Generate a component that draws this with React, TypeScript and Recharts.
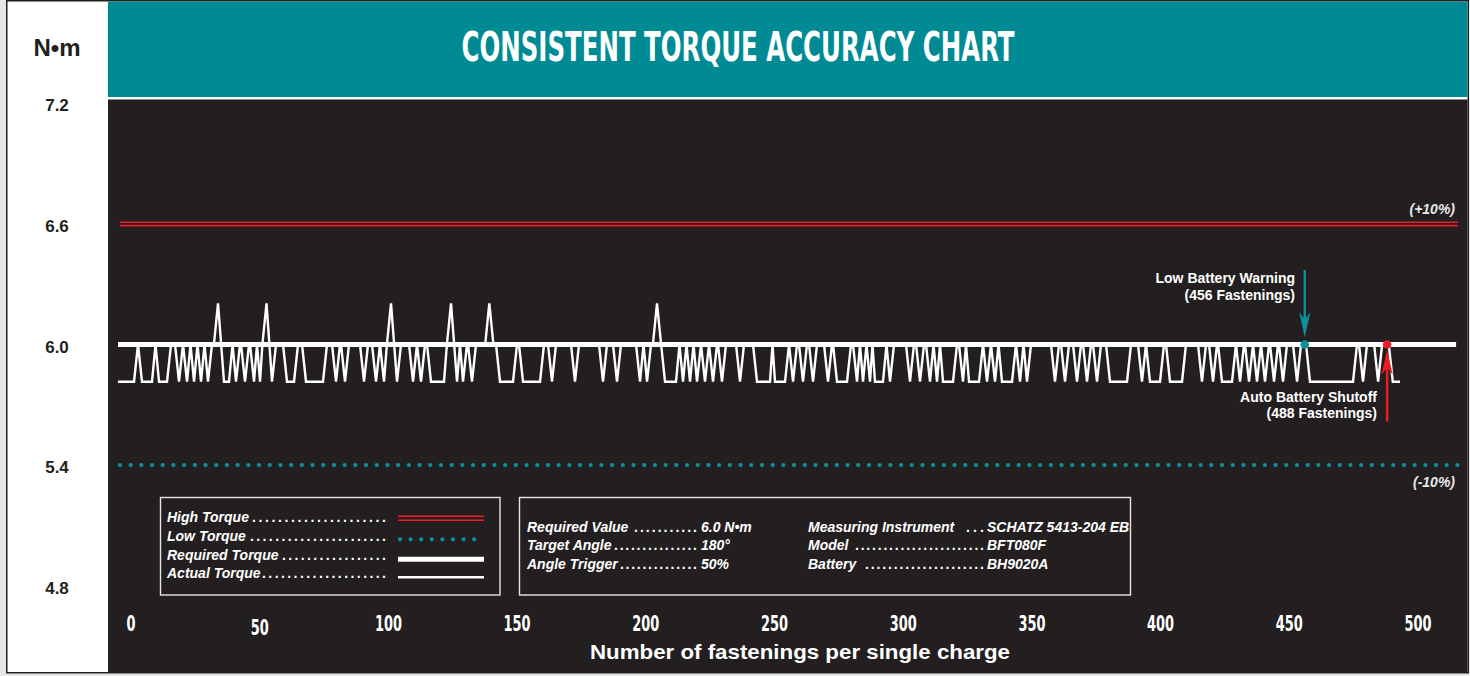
import React from 'react';
import { ComposedChart, Line, XAxis, YAxis, ReferenceLine, ReferenceDot } from 'recharts';

const W = 1470;
const H = 676;

// ---- axis ticks ----
const xTicks = [0, 50, 100, 150, 200, 250, 300, 350, 400, 450, 500];
const yTicks = [4.8, 5.4, 6.0, 6.6, 7.2];

// ---- torque levels (N·m) ----
const requiredTorque = 6.0;
const highTorque = 6.6;
const lowTorque = 5.4;
const actualLowValue = 5.815;
const actualSpikeValue = 6.205;

// ---- actual torque trace: stretches where the reading sits at the low value [from, to] (fastenings) ----
const lowRuns: [number, number][] = [
  [-5.05, 1.17], [4.27, 8.16], [10.88, 13.99], [18.65, 18.65], [21.76, 21.76], [24.48, 24.48],
  [27.2, 27.2], [29.91, 29.91], [36.13, 38.07], [40.79, 40.79], [44.29, 44.29], [47.79, 47.79],
  [50.12, 50.12], [54.78, 54.78], [60.61, 63.33], [67.99, 74.59], [79.64, 79.64], [83.14, 83.14],
  [90.52, 90.52], [95.18, 95.18], [98.29, 98.29], [103.34, 103.34], [109.56, 109.56], [112.67, 112.67],
  [116.55, 121.6], [126.65, 126.65], [128.98, 128.98], [132.48, 132.48], [143.36, 148.41],
  [152.29, 158.9], [163.56, 163.56], [172.49, 172.49], [183.37, 183.37], [188.81, 188.81],
  [197.75, 197.75], [200.47, 200.47], [207.46, 211.73], [214.45, 214.45], [217.17, 217.17],
  [219.89, 219.89], [223.0, 223.0], [226.11, 226.11], [229.6, 229.6], [236.6, 236.6],
  [243.2, 248.25], [250.19, 254.08], [257.19, 257.19], [261.07, 261.07], [264.96, 264.96],
  [270.78, 270.78], [274.28, 278.17], [282.05, 282.05], [284.38, 284.38], [287.1, 287.1],
  [289.04, 292.15], [294.87, 294.87], [302.64, 302.64], [306.53, 306.53], [310.41, 310.41],
  [313.13, 313.13], [315.46, 319.35], [323.23, 323.23], [325.56, 329.45], [332.56, 332.56],
  [335.66, 335.66], [338.38, 342.27], [345.38, 345.38], [348.1, 348.1], [358.97, 358.97],
  [362.86, 362.86], [367.52, 367.52], [371.41, 371.41], [375.29, 375.29], [380.34, 386.95],
  [392.77, 392.77], [395.88, 399.77], [403.65, 408.31], [416.08, 416.08], [420.36, 420.36],
  [423.85, 427.74], [430.85, 430.85], [434.34, 434.34], [437.45, 437.45], [440.56, 440.56],
  [444.06, 444.06], [447.55, 447.55], [453.0, 453.0], [458.04, 474.75], [478.63, 478.63],
  [484.5, 484.5], [490.2, 493.0],
];
// fastenings where the reading overshoots the required value
const spikeAt = [33.8, 52.64, 101.01, 124.32, 139.2, 204.35];

const requiredSpan = [-5.05, 514.8];
const limitSpan = [-4.3, 515.5];
const lowBatteryAt = 456;
const shutoffAt = 488;

// ---- colours & fonts ----
const DARK = '#231f20';
const TEAL = '#008b94';
const DOT_TEAL = '#0b8f99';
const RED = '#ed1c24';
const NARROW = "'Liberation Sans Narrow', 'DejaVu Sans Condensed', 'Liberation Sans', sans-serif";
const SANS = "'Liberation Sans', Arial, sans-serif";

const RAMP = 1.55;

function buildTrace() {
  const pts: { x: number; y: number }[] = [];
  const top = (x: number) => pts.push({ x, y: requiredTorque });
  lowRuns.forEach(([s, e], i) => {
    if (i > 0) {
      const pe = lowRuns[i - 1][1];
      const p = spikeAt.find((v) => v > pe && v < s);
      if (p !== undefined) {
        if (p - pe > 2.5) {
          if (pe + RAMP < p - 1.6) top(pe + RAMP);
          top(p - 1.6);
        }
        pts.push({ x: p, y: actualSpikeValue });
        if (s - p > 2.5) {
          top(p + 1.6);
          if (s - RAMP > p + 1.6) top(s - RAMP);
        }
      } else if (s - pe <= 2 * RAMP) {
        top((pe + s) / 2);
      } else {
        top(pe + RAMP);
        top(s - RAMP);
      }
    }
    pts.push({ x: s, y: actualLowValue });
    if (e > s) pts.push({ x: e, y: actualLowValue });
  });
  return pts;
}

const actualData = buildTrace();
const requiredData = requiredSpan.map((x) => ({ x, y: requiredTorque }));
const lowData = limitSpan.map((x) => ({ x, y: lowTorque }));

const XTick = (props: any) => {
  const { x, y, payload } = props;
  const label = String(payload.value);
  return (
    <text x={x} y={y + (payload.value === 50 ? 35 : 31)} textAnchor="middle" fill="#fff"
      fontFamily={NARROW} fontWeight={700} fontSize={21} textLength={label.length * 9}
      lengthAdjust="spacingAndGlyphs">
      {label}
    </text>
  );
};

const YTick = (props: any) => {
  const { y, payload } = props;
  return (
    <text x={57} y={y + 8} textAnchor="middle" fill={DARK} fontFamily={SANS} fontWeight={700} fontSize={17}>
      {Number(payload.value).toFixed(1)}
    </text>
  );
};

const arrowShape = (color: string) => (props: any) => {
  const { x1, y1, x2, y2 } = props;
  const dir = y2 > y1 ? 1 : -1;
  const tipX = x2;
  const tipY = y2;
  const back = tipY - dir * 25;
  const notch = tipY - dir * 18;
  return (
    <g>
      <line x1={x1} y1={y1} x2={tipX} y2={notch} stroke={color} strokeWidth={2.4} />
      <polygon points={`${tipX},${tipY} ${tipX - 5.6},${back} ${tipX},${notch} ${tipX + 5.6},${back}`} fill={color} />
    </g>
  );
};

const Leader = ({ x1, x2, y, size = 14, step = 6 }: { x1: number; x2: number; y: number; size?: number; step?: number }) => {
  const n = Math.max(1, Math.round((x2 - x1) / step));
  return (
    <text x={x1} y={y} textLength={x2 - x1} lengthAdjust="spacing" fill="#fff" fontFamily={SANS}
      fontWeight={700} fontSize={size}>
      {'.'.repeat(n)}
    </text>
  );
};

const legendRows = ['High Torque', 'Low Torque', 'Required Torque', 'Actual Torque'];
const infoLeft = [
  ['Required Value', '6.0 N•m'],
  ['Target Angle', '180°'],
  ['Angle Trigger', '50%'],
];
const infoRight = [
  ['Measuring Instrument', 'SCHATZ 5413-204 EB'],
  ['Model', 'BFT080F'],
  ['Battery', 'BH9020A'],
];

export default function App() {
  const legendY = [522, 541, 560, 578];
  const legendDotStart = [252, 250, 282, 262];
  const infoY = [532, 550, 568.5];
  const infoLeftDots = [634, 614, 620];
  const infoRightDots = [966, 855, 865];
  const itStyle = { fontFamily: SANS, fontWeight: 700, fontStyle: 'italic' as const, fill: '#fff' };

  return (
    <div style={{ position: 'absolute', left: 0, top: 0, width: W, height: H, overflow: 'hidden' }}>
      <svg width={W} height={H} style={{ position: 'absolute', left: 0, top: 0 }}>
        <rect x={0} y={0} width={W} height={H} fill="#e6e7e8" />
        <rect x={6.75} y={0.75} width={1461.5} height={672} fill="#ffffff" stroke={DARK} strokeWidth={1.5} />
        <rect x={108} y={1.5} width={1359.5} height={95.5} fill={TEAL} />
        <rect x={108} y={99.5} width={1359.5} height={572.5} fill={DARK} />
      </svg>

      <div style={{ position: 'absolute', left: 0, top: 0 }}>
        <ComposedChart width={W} height={H} margin={{ top: 100, right: 2, left: 8, bottom: 24 }}>
          <XAxis type="number" dataKey="x" domain={[-8.94, 519.42]} ticks={xTicks} interval={0}
            allowDataOverflow tick={<XTick />} tickLine={false} axisLine={false} tickSize={0} tickMargin={0} height={52} />
          <YAxis type="number" domain={[4.72886, 7.21642]} ticks={yTicks} interval={0} allowDataOverflow
            tick={<YTick />} tickLine={false} axisLine={false} width={100} />

          <ReferenceLine segment={[{ x: limitSpan[0], y: highTorque + 0.0085 }, { x: limitSpan[1], y: highTorque + 0.0085 }]}
            stroke={RED} strokeWidth={1.6} ifOverflow="visible" />
          <ReferenceLine segment={[{ x: limitSpan[0], y: highTorque - 0.0085 }, { x: limitSpan[1], y: highTorque - 0.0085 }]}
            stroke={RED} strokeWidth={1.6} ifOverflow="visible" />

          <Line data={lowData} dataKey="y" type="linear" stroke={DOT_TEAL} strokeWidth={4.3}
            strokeDasharray="0 10.7" strokeLinecap="round" dot={false} activeDot={false} isAnimationActive={false} />
          <Line data={actualData} dataKey="y" type="linear" stroke="#ffffff" strokeWidth={2.4}
            dot={false} activeDot={false} isAnimationActive={false} />
          <Line data={requiredData} dataKey="y" type="linear" stroke="#ffffff" strokeWidth={4.8}
            dot={false} activeDot={false} isAnimationActive={false} />

          <ReferenceLine segment={[{ x: lowBatteryAt, y: 6.371 }, { x: lowBatteryAt, y: 6.036 }]}
            ifOverflow="visible" shape={arrowShape(DOT_TEAL)} />
          <ReferenceLine segment={[{ x: shutoffAt, y: 5.617 }, { x: shutoffAt, y: 5.974 }]}
            ifOverflow="visible" shape={arrowShape(RED)} />
          <ReferenceDot x={lowBatteryAt} y={requiredTorque} r={4.3} fill={DOT_TEAL} stroke="none" ifOverflow="visible" />
          <ReferenceDot x={shutoffAt} y={requiredTorque} r={4.3} fill={RED} stroke="none" ifOverflow="visible" />
        </ComposedChart>
      </div>

      <svg width={W} height={H} style={{ position: 'absolute', left: 0, top: 0, pointerEvents: 'none' }}>
        <text x={738} y={61} textAnchor="middle" fill="#fff" fontFamily={NARROW} fontWeight={700} fontSize={41}
          textLength={553} lengthAdjust="spacingAndGlyphs">
          CONSISTENT TORQUE ACCURACY CHART
        </text>
        <text x={57} y={56} textAnchor="middle" fill={DARK} fontFamily={SANS} fontWeight={700} fontSize={24}>N•m</text>

        <text x={800} y={659} textAnchor="middle" fill="#fff" fontFamily={SANS} fontWeight={700} fontSize={21}
          textLength={420} lengthAdjust="spacingAndGlyphs">Number of fastenings per single charge</text>

        <text x={1455} y={214} textAnchor="end" fontSize={14} {...itStyle} fill="#e8e8e8">(+10%)</text>
        <text x={1455} y={487} textAnchor="end" fontSize={14} {...itStyle} fill="#e8e8e8">(-10%)</text>

        <text x={1295} y={283} textAnchor="end" fill="#fff" fontFamily={SANS} fontWeight={700} fontSize={14}>Low Battery Warning</text>
        <text x={1295} y={299.5} textAnchor="end" fill="#fff" fontFamily={SANS} fontWeight={700} fontSize={14}>(456 Fastenings)</text>
        <text x={1377} y={402} textAnchor="end" fill="#fff" fontFamily={SANS} fontWeight={700} fontSize={14}>Auto Battery Shutoff</text>
        <text x={1377} y={418} textAnchor="end" fill="#fff" fontFamily={SANS} fontWeight={700} fontSize={14}>(488 Fastenings)</text>

        {/* legend box */}
        <rect x={160.5} y={497.5} width={339.5} height={97.5} fill="none" stroke="#e6e6e6" strokeWidth={1.4} />
        {legendRows.map((t, i) => (
          <g key={t}>
            <text x={167} y={legendY[i]} fontSize={14} {...itStyle}>{t}</text>
            <Leader x1={legendDotStart[i]} x2={386} y={legendY[i]} step={6.3} />
          </g>
        ))}
        <line x1={398} x2={484} y1={516.3} y2={516.3} stroke={RED} strokeWidth={1.5} />
        <line x1={398} x2={484} y1={520.3} y2={520.3} stroke={RED} strokeWidth={1.5} />
        <line x1={400} x2={484} y1={539.3} y2={539.3} stroke={DOT_TEAL} strokeWidth={4.3} strokeDasharray="0 10.6" strokeLinecap="round" />
        <line x1={398} x2={484} y1={559.3} y2={559.3} stroke="#fff" strokeWidth={5} />
        <line x1={398} x2={484} y1={577.2} y2={577.2} stroke="#fff" strokeWidth={2.4} />

        {/* info box */}
        <rect x={519.5} y={497.5} width={611} height={97.5} fill="none" stroke="#e6e6e6" strokeWidth={1.4} />
        {infoLeft.map(([k, v], i) => (
          <g key={k}>
            <text x={527} y={infoY[i]} fontSize={14} {...itStyle}>{k}</text>
            <Leader x1={infoLeftDots[i]} x2={697} y={infoY[i]} step={5.6} />
            <text x={701} y={infoY[i]} fontSize={14} {...itStyle}>{v}</text>
          </g>
        ))}
        {infoRight.map(([k, v], i) => (
          <g key={k}>
            <text x={808} y={infoY[i]} fontSize={14} {...itStyle}>{k}</text>
            <Leader x1={infoRightDots[i]} x2={984} y={infoY[i]} step={5.6} />
            <text x={987} y={infoY[i]} fontSize={14} {...itStyle}>{v}</text>
          </g>
        ))}
      </svg>
    </div>
  );
}
